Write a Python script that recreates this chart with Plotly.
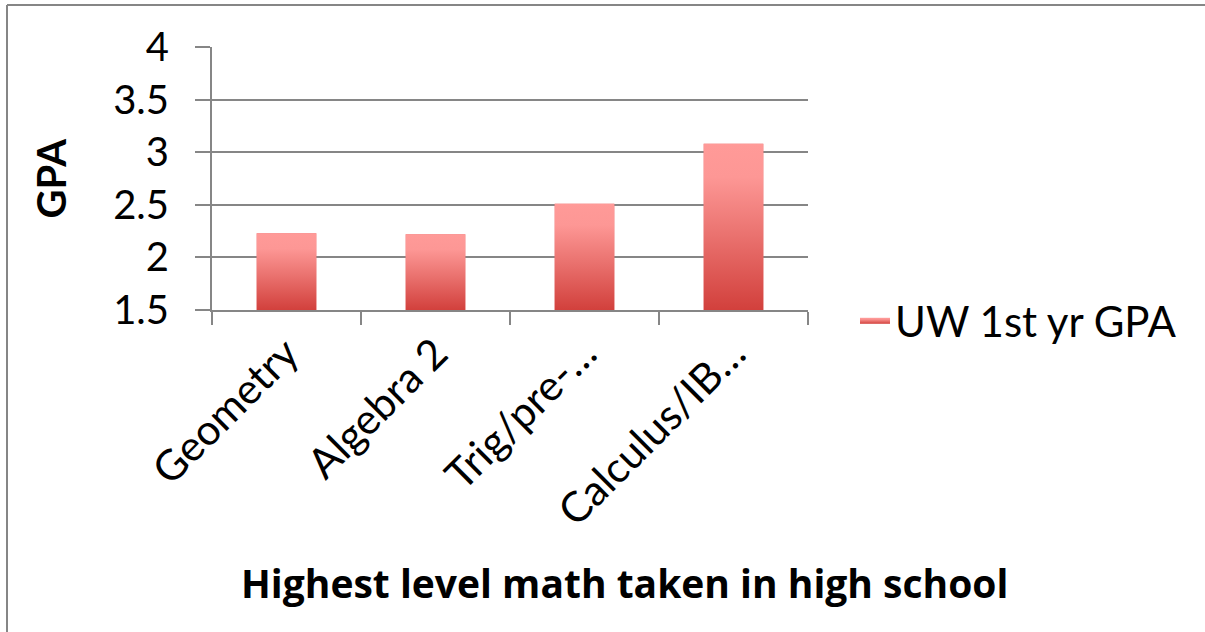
import plotly.graph_objects as go

# ---- data ----
categories = ["Geometry", "Algebra 2", "Trig/pre-…", "Calculus/IB…"]
gpa_values = [2.23, 2.22, 2.51, 3.08]
series_name = "UW 1st yr GPA"
y_ticks = [1.5, 2, 2.5, 3, 3.5, 4]
y_tick_labels = ["1.5", "2", "2.5", "3", "3.5", "4"]

# ---- geometry / style ----
W, H = 1205, 632
L, R, T, B = 212, 397, 47, 322
PW, PH = W - L - R, H - T - B
GRID = "#868686"
FONT = "Lato"
BASE = 1.5
BAR_W = 0.40

def px_x(px):
    return (px - L) / PW

def px_y(py):
    return (H - B - py) / PH

xs = list(range(len(categories)))

fig = go.Figure()

# underlying bar trace (data)
fig.add_trace(go.Bar(
    x=xs, y=gpa_values, width=BAR_W, marker_color="#e87070",
    marker_line_width=0, showlegend=False, hoverinfo="skip",
))

# gradient overlays drawn from the same values
cscale = [[0, "#d2403c"], [0.45, "#ea726f"], [0.8, "#fd9795"], [1, "#ff9a98"]]
for i, (xc, v) in enumerate(zip(xs, gpa_values)):
    fig.add_trace(go.Scatter(
        x=[xc - BAR_W / 2, xc + BAR_W / 2, xc + BAR_W / 2, xc - BAR_W / 2, xc - BAR_W / 2],
        y=[BASE, BASE, v, v, BASE],
        mode="none", fill="toself",
        fillgradient=dict(type="vertical", colorscale=cscale, start=BASE, stop=v),
        name=series_name, legendgroup="s", showlegend=(i == 0),
        hoverinfo="skip",
    ))

fig.update_layout(
    width=W, height=H,
    margin=dict(l=L, r=R, t=T, b=B, pad=0),
    paper_bgcolor="white", plot_bgcolor="white",
    font=dict(family=FONT, color="black", size=39),
    showlegend=True,
    legend=dict(x=px_x(855), y=px_y(321), xanchor="left", yanchor="middle",
                font=dict(size=42, family=FONT), bgcolor="rgba(0,0,0,0)"),
    xaxis=dict(
        range=[-0.5, len(categories) - 0.5],
        tickvals=xs, ticktext=categories, tickangle=-45,
        ticks="", showgrid=False, zeroline=False,
        showline=True, linecolor=GRID, linewidth=2,
        tickfont=dict(size=42, family=FONT),
        minor=dict(tickvals=[x - 0.5 for x in range(len(categories) + 1)],
                   ticks="outside", ticklen=13, tickwidth=2, tickcolor=GRID,
                   showgrid=False),
    ),
    yaxis=dict(
        range=[1.5, 4], tickvals=y_ticks, ticktext=y_tick_labels,
        showgrid=True, gridcolor=GRID, gridwidth=2, zeroline=False,
        showline=True, linecolor=GRID, linewidth=2,
        ticks="outside", ticklen=15, tickwidth=2, tickcolor=GRID,
        ticklabelstandoff=18,
        tickfont=dict(size=40, family=FONT),
    ),
    annotations=[
        dict(text="<b>GPA</b>", x=px_x(50), y=0.5, xref="paper", yref="paper",
             textangle=-90, showarrow=False, font=dict(size=40, family=FONT),
             xanchor="center", yanchor="middle"),
        dict(text="<b>Highest level math taken in high school</b>",
             x=px_x(624), y=px_y(582), xref="paper", yref="paper",
             showarrow=False, font=dict(size=39, family="Open Sans"),
             xanchor="center", yanchor="middle"),
    ],
    shapes=[
        dict(type="line", xref="paper", yref="paper",
             x0=px_x(7), x1=px_x(7), y0=px_y(5), y1=px_y(640),
             line=dict(color=GRID, width=2)),
        dict(type="line", xref="paper", yref="paper",
             x0=px_x(7), x1=px_x(1210), y0=px_y(5), y1=px_y(5),
             line=dict(color=GRID, width=2)),
    ],
)

fig.write_html("out.html")
